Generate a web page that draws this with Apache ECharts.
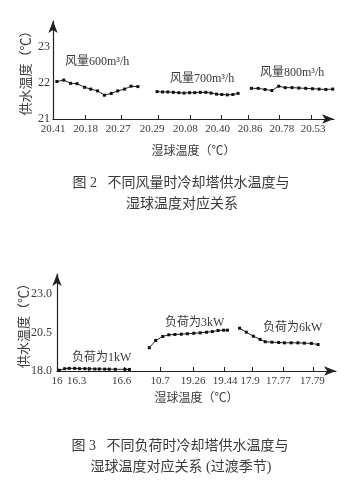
<!DOCTYPE html>
<html>
<head>
<meta charset="utf-8">
<script src="https://cdn.jsdelivr.net/npm/echarts@6/dist/echarts.min.js"></script>
<style>
  html, body { margin: 0; padding: 0; background: #fff; }
  #chart { width: 355px; height: 499px; }
</style>
</head>
<body>
<div id="chart"></div>
<script>
// fig 2: supply water temp vs wet bulb temp, different air volumes
const fig2Labels = ['20.41', '20.18', '20.27', '20.29', '20.08', '20.40', '20.86', '20.78', '20.53'];
const fig2LabelPos = [0, 1, 2, 3.05, 4.07, 5.06, 6.06, 7.04, 8];
const fig2TickPos = [0.98, 2.1, 3.23, 4.23, 5.18, 6.0, 6.95, 7.93];

const air600X = [0.12, 0.33, 0.54, 0.74, 0.97, 1.16, 1.37, 1.58, 1.79, 1.99, 2.20, 2.40, 2.61];
const air600Y = [22.04, 22.08, 21.99, 21.98, 21.88, 21.83, 21.78, 21.66, 21.71, 21.78, 21.83, 21.91, 21.90];
const air700X = [3.20, 3.37, 3.53, 3.70, 3.87, 4.03, 4.20, 4.36, 4.53, 4.70, 4.86, 5.03, 5.19, 5.36, 5.53, 5.69];
const air700Y = [21.76, 21.75, 21.75, 21.74, 21.73, 21.72, 21.73, 21.73, 21.74, 21.74, 21.72, 21.69, 21.68, 21.67, 21.68, 21.71];
const air800X = [6.10, 6.31, 6.52, 6.73, 6.94, 7.14, 7.35, 7.56, 7.77, 7.98, 8.18, 8.39, 8.60];
const air800Y = [21.85, 21.85, 21.82, 21.79, 21.91, 21.87, 21.87, 21.86, 21.85, 21.84, 21.83, 21.82, 21.83];

// fig 3: supply water temp vs wet bulb temp, different loads
const fig3Labels = ['16', '16.3', '16.6', '10.7', '19.26', '19.44', '17.9', '17.77', '17.79'];
const fig3LabelPos = [0, 0.61, 2.02, 3.22, 4.25, 5.25, 6.03, 6.91, 7.97];
const fig3TickPos = [0.97, 2.09, 3.22, 4.26, 5.22, 6.09, 7.05, 8.01];

const load1X = [0.07, 0.24, 0.38, 0.55, 0.70, 0.87, 1.01, 1.18, 1.32, 1.49, 1.63, 1.82, 2.12, 2.26];
const load1Y = [18.05, 18.15, 18.17, 18.17, 18.15, 18.15, 18.14, 18.13, 18.13, 18.12, 18.12, 18.11, 18.11, 18.10];
const load3X = [2.88, 3.08, 3.30, 3.49, 3.68, 3.88, 4.07, 4.27, 4.47, 4.67, 4.85, 5.03, 5.20, 5.32];
const load3Y = [19.51, 19.98, 20.24, 20.35, 20.37, 20.39, 20.42, 20.45, 20.48, 20.52, 20.56, 20.63, 20.65, 20.65];
const load6X = [5.70, 5.91, 6.13, 6.34, 6.50, 6.71, 6.92, 7.10, 7.31, 7.52, 7.72, 7.94, 8.15];
const load6Y = [20.78, 20.52, 20.26, 20.05, 19.90, 19.87, 19.85, 19.83, 19.83, 19.83, 19.81, 19.79, 19.72];

const FONT = '"Liberation Serif", "Noto Sans CJK SC", serif';
const INK = '#222';
const TXT = '#3a3a3a';

const pairs = (xs, ys) => xs.map((x, i) => [x, ys[i]]);

const makeX = (gridIndex, max, labels, labelPos, tickPos, nameGap) => ({
  type: 'value',
  gridIndex: gridIndex,
  min: 0,
  max: max,
  interval: 1,
  name: '湿球温度（℃）',
  nameLocation: 'middle',
  nameGap: nameGap,
  nameMoveOverlap: false,
  nameTextStyle: { fontFamily: FONT, fontSize: 12, color: TXT },
  axisLine: {
    lineStyle: { color: INK, width: 1.2 },
    symbol: ['none', 'arrow'],
    symbolSize: [7, 12],
  },
  axisTick: {
    inside: true,
    length: 4,
    customValues: tickPos,
    lineStyle: { color: INK },
  },
  axisLabel: {
    customValues: labelPos,
    margin: 5,
    fontFamily: FONT,
    fontSize: 11,
    color: TXT,
    showMinLabel: true,
    showMaxLabel: true,
    hideOverlap: false,
    formatter: (v) => {
      const i = labelPos.findIndex((p) => Math.abs(p - v) < 1e-6);
      return i >= 0 ? labels[i] : '';
    },
  },
  splitLine: { show: false },
});

const makeY = (gridIndex, min, max, interval, digits, nameGap, margin) => ({
  type: 'value',
  gridIndex: gridIndex,
  min: min,
  max: max,
  interval: interval,
  name: '供水温度（℃）',
  nameLocation: 'middle',
  nameRotate: 90,
  nameGap: nameGap,
  nameMoveOverlap: false,
  nameTextStyle: { fontFamily: FONT, fontSize: 13, color: TXT },
  axisLine: {
    show: true,
    lineStyle: { color: INK, width: 1.2 },
    symbol: ['none', 'arrow'],
    symbolSize: [7, 12],
  },
  axisTick: { show: false },
  axisLabel: {
    margin: margin,
    fontFamily: FONT,
    fontSize: 12,
    color: TXT,
    showMaxLabel: false,
    formatter: (v) => v.toFixed(digits),
  },
  splitLine: { show: false },
});

const makeLine = (name, gridIndex, xs, ys) => ({
  name: name,
  type: 'line',
  xAxisIndex: gridIndex,
  yAxisIndex: gridIndex,
  data: pairs(xs, ys),
  symbol: 'rect',
  symbolSize: 3,
  showSymbol: true,
  lineStyle: { color: INK, width: 1 },
  itemStyle: { color: '#111' },
});

const note = (text, x, y, size, align) => ({
  type: 'text',
  x: x,
  y: y,
  style: {
    text: text,
    fill: TXT,
    font: size + 'px ' + FONT,
    align: align || 'left',
    verticalAlign: 'middle',
  },
});

const chart = echarts.init(document.getElementById('chart'), null, { renderer: 'canvas' });

const option = {
  animation: false,
  backgroundColor: '#fff',
  grid: [
    { left: 53, top: 21, width: 281, height: 98, outerBoundsMode: 'none' },
    { left: 57, top: 274, width: 279, height: 97, outerBoundsMode: 'none' },
  ],
  xAxis: [
    makeX(0, 8.64, fig2Labels, fig2LabelPos, fig2TickPos, 27),
    makeX(1, 8.71, fig3Labels, fig3LabelPos, fig3TickPos, 22),
  ],
  yAxis: [
    makeY(0, 21, 23.72, 1, 0, 20, 3),
    makeY(1, 18, 24.3, 2.5, 1, 26, 5),
  ],
  series: [
    makeLine('风量600', 0, air600X, air600Y),
    makeLine('风量700', 0, air700X, air700Y),
    makeLine('风量800', 0, air800X, air800Y),
    makeLine('负荷1kW', 1, load1X, load1Y),
    makeLine('负荷3kW', 1, load3X, load3Y),
    makeLine('负荷6kW', 1, load6X, load6Y),
  ],
  graphic: [
    note('风量600m³/h', 65, 62, 12),
    note('风量700m³/h', 170, 79, 12),
    note('风量800m³/h', 260, 73, 12),
    note('负荷为1kW', 72, 358, 12),
    note('负荷为3kW', 165, 323, 12),
    note('负荷为6kW', 263, 328, 12),
    note('图 2   不同风量时冷却塔供水温度与', 181, 183, 14, 'center'),
    note('湿球温度对应关系', 182, 204, 14, 'center'),
    note('图 3   不同负荷时冷却塔供水温度与', 180, 446, 14, 'center'),
    note('湿球温度对应关系 (过渡季节)', 181, 467, 14, 'center'),
  ],
};

chart.setOption(option);
</script>
</body>
</html>
